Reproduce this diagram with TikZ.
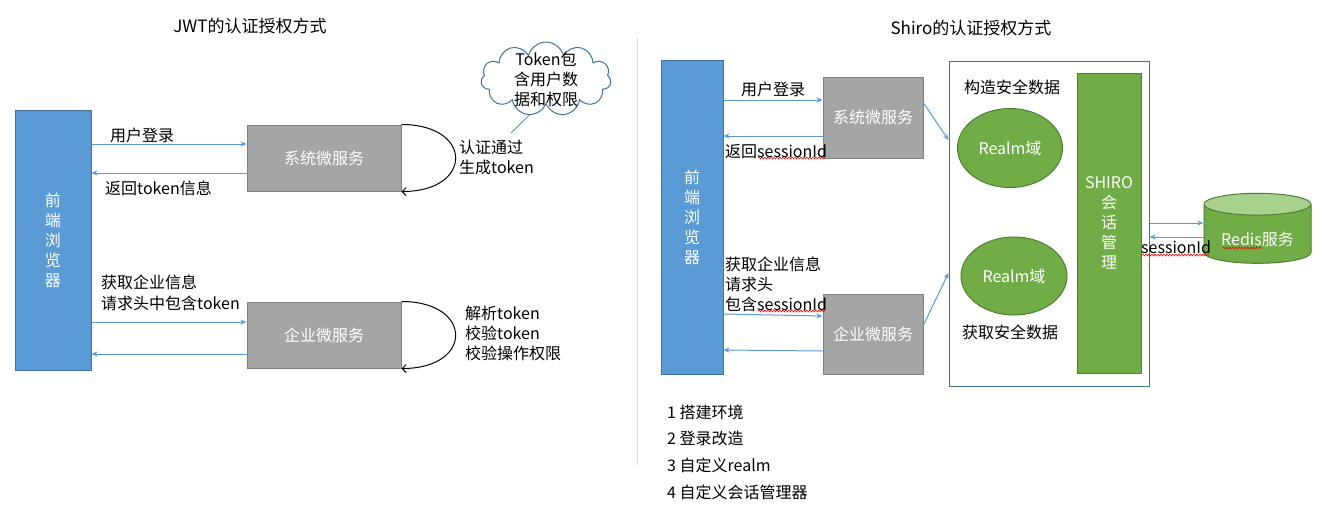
\documentclass[tikz,border=0pt]{standalone}
\usepackage{fontspec}
\setmainfont{Noto Sans CJK SC}
\usetikzlibrary{arrows.meta,shapes.geometric,shapes.symbols,decorations.pathmorphing}
\definecolor{boxblue}{HTML}{5B9BD5}
\definecolor{boxblueline}{HTML}{41719C}
\definecolor{boxgray}{HTML}{A5A5A5}
\definecolor{boxgrayline}{HTML}{7F7F7F}
\definecolor{boxgreen}{HTML}{70AD47}
\definecolor{boxgreenline}{HTML}{507E32}
\definecolor{redistop}{HTML}{A9D18E}
\definecolor{divider}{HTML}{D9D9D9}

\begin{document}
\begin{tikzpicture}[x=1pt,y=-1pt,
every node/.style={font=\fontsize{16}{20}\selectfont, inner sep=0pt},
browser/.style={draw=boxblueline, fill=boxblue, line width=1pt, text=white, align=center},
service/.style={draw=boxgrayline, fill=boxgray, line width=1pt, text=white},
realm/.style={ellipse, draw=boxgreenline, fill=boxgreen, line width=1pt, text=white,
    minimum width=105pt, minimum height=79pt},
label/.style={anchor=west, align=left},
title/.style={font=\fontsize{17}{21}\selectfont},
flow/.style={draw=boxblue, line width=1pt, -{Stealth[length=6pt,width=5pt]}},
selfloop/.style={draw=black, line width=1pt, -{Straight Barb[length=4pt,width=8pt]}},
squiggle/.style={draw=red, line width=0.6pt, decorate,
    decoration={snake, amplitude=0.9pt, segment length=3pt}}]
\useasboundingbox (0,0) rectangle (1334,528);

\node[title] (jwttitle) at (250,26) {JWT的认证授权方式};
\node[title] (shirotitle) at (971,28) {Shiro的认证授权方式};
\draw[divider, line width=1pt] (637,38) -- (637,465);

% JWT
\node[browser, minimum width=76pt, minimum height=260pt] (brw1) at (53,240) {前\\端\\浏\\览\\器};
\node[service, minimum width=154pt, minimum height=66pt] (sys1) at (324,158) {系统微服务};
\node[service, minimum width=154pt, minimum height=66pt] (ent1) at (324,335) {企业微服务};
\node[cloud, cloud puffs=11, aspect=1.8, draw=boxblueline, fill=white, line width=1pt,
    minimum width=130pt, minimum height=74pt] (cloud) at (546,79) {};
\node[align=center] (cloudtext) at (cloud.center) {Token包\\含用户数\\据和权限};
\coordinate (cloudtip) at (511,133);
\draw[boxblue, line width=1pt] (cloud.245) -- (cloudtip);

\draw[flow] (brw1.east |- 0,144) -- (sys1.west |- 0,144);
\draw[flow] (sys1.west |- 0,173) -- (brw1.east |- 0,173);
\node[label] (login1) at (110,135) {用户登录};
\node[label] (back1) at (105,188) {返回token信息};
\draw[selfloop] (sys1.north east) .. controls +(72,0) and +(72,0) .. (sys1.south east);
\node[label] (auth1) at (459,157) {认证通过\\生成token};

\draw[flow] (brw1.east |- 0,322) -- (ent1.west |- 0,322);
\draw[flow] (ent1.west |- 0,354) -- (brw1.east |- 0,354);
\node[label, font=\fontsize{16}{21}\selectfont] (req1) at (101,293) {获取企业信息\\请求头中包含token};
\draw[selfloop] (ent1.north east) .. controls +(72,0) and +(72,0) .. (ent1.south east);
\node[label] (check1) at (465,333) {解析token\\校验token\\校验操作权限};

% Shiro
\node[browser, minimum width=62pt, minimum height=314pt] (brw2) at (692,217) {前\\端\\浏\\览\\器};
\node[service, minimum width=100pt, minimum height=81pt] (sys2) at (873,117.5) {系统微服务};
\node[service, minimum width=100pt, minimum height=80pt] (ent2) at (873,334) {企业微服务};
\node[draw=boxblueline, line width=1pt, minimum width=200pt, minimum height=325pt] (shiro) at (1049,223.5) {};
\node[label] (build) at (964,87) {构造安全数据};
\node[realm] (realm1) at (1010,148) {Realm域};
\node[realm, minimum width=106pt, minimum height=78pt] (realm2) at (1014,276) {Realm域};
\node[label] (fetch) at (962,332) {获取安全数据};
\node[browser, draw=boxgreenline, fill=boxgreen, minimum width=64pt, minimum height=300pt] (session) at (1109,223) {SHIRO\\会\\话\\管\\理};
\node[cylinder, shape border rotate=90, aspect=0.3, draw=boxgreenline, line width=1pt,
    cylinder uses custom fill, cylinder body fill=boxgreen, cylinder end fill=redistop,
    text=white, text height=24pt, minimum width=107pt, minimum height=70pt] (redis) at (1257.5,234) {Redis服务};

\draw[flow] (brw2.east |- 0,100) -- (sys2.west |- 0,100);
\draw[flow] (sys2.west |- 0,136) -- (brw2.east |- 0,136);
\node[label] (login2) at (741,89) {用户登录};
\node[label] (back2) at (725,152) {返回sessionId};
\draw[flow] (brw2.east |- 0,314) -- (ent2.west |- 0,316);
\draw[flow] (ent2.west |- 0,351) -- (brw2.east |- 0,350);
\node[label] (req2) at (725,284) {获取企业信息\\请求头\\包含sessionId};
\draw[flow] (sys2.east |- 0,103) -- (shiro.west |- 0,140);
\draw[flow] (ent2.east |- 0,325) -- (shiro.west |- 0,273);
\draw[flow] (shiro.east |- 0,223) -- (redis.west |- 0,223);
\draw[flow] (redis.west |- 0,237) -- (shiro.east |- 0,237);
\node[label] (sid) at (1141,247) {sessionId};

\draw[squiggle] (758,158) -- (825,158);
\draw[squiggle] (758,311) -- (825,311);
\draw[squiggle] (1142,255) -- (1209,255);
\draw[squiggle] (1223,248) -- (1262,248);

\node[label, font=\fontsize{16}{26.7}\selectfont] (steps) at (667,452) {1 搭建环境\\2 登录改造\\3 自定义realm\\4 自定义会话管理器};
\end{tikzpicture}
\end{document}
